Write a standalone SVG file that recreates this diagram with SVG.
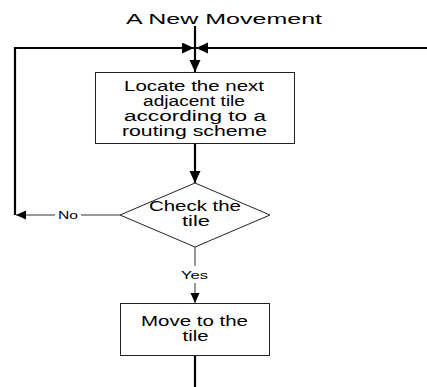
<svg xmlns="http://www.w3.org/2000/svg" width="427" height="387" viewBox="0 0 427 387">
<style>
text{font-family:"Liberation Sans",Arial,sans-serif;fill:#000;text-anchor:middle}
.t{font-size:14px}
.l{font-size:11px}
.box{fill:#fff;stroke:#222;stroke-width:1}
.thick{fill:none;stroke:#000;stroke-width:2.2}
.thin{fill:none;stroke:#333;stroke-width:1}
</style>
<defs>
<marker id="ah" markerUnits="userSpaceOnUse" markerWidth="14" markerHeight="12" refX="12" refY="5.5" orient="auto">
<path d="M0,0 L12,5.5 L0,11 Z" fill="#000"/>
</marker>
<marker id="ahs" markerUnits="userSpaceOnUse" markerWidth="12" markerHeight="10" refX="10" refY="4.5" orient="auto">
<path d="M0,0 L10,4.5 L0,9 Z" fill="#000"/>
</marker>
</defs>
<text class="t" x="224" y="24" textLength="196" lengthAdjust="spacingAndGlyphs">A New Movement</text>
<g id="connectors">
<line class="thick" x1="195" y1="26" x2="195" y2="72" marker-end="url(#ah)"/>
<polyline class="thick" points="15,215 15,48 194,48" marker-end="url(#ah)"/>
<line class="thick" x1="427" y1="48" x2="196" y2="48" marker-end="url(#ah)"/>
<line class="thick" x1="195" y1="144" x2="195" y2="183" marker-end="url(#ah)"/>
<line class="thin" x1="120" y1="215" x2="81" y2="215"/>
<line class="thin" x1="55" y1="215" x2="16" y2="215" marker-end="url(#ahs)"/>
<text class="l" x="68" y="219" textLength="20" lengthAdjust="spacingAndGlyphs">No</text>
<line class="thin" x1="195" y1="247" x2="195" y2="266"/>
<line class="thin" x1="195" y1="283" x2="195" y2="303" marker-end="url(#ahs)"/>
<text class="l" x="194.5" y="279" textLength="27" lengthAdjust="spacingAndGlyphs">Yes</text>
<line class="thick" x1="195" y1="356" x2="195" y2="387"/>
</g>
<g id="locate">
<rect class="box" x="95.5" y="72.5" width="199" height="71"/>
<text class="t" x="194" y="91" textLength="140" lengthAdjust="spacingAndGlyphs">Locate the next</text>
<text class="t" x="194" y="106" textLength="102" lengthAdjust="spacingAndGlyphs">adjacent tile</text>
<text class="t" x="195" y="121" textLength="142" lengthAdjust="spacingAndGlyphs">according to a</text>
<text class="t" x="194.5" y="136" textLength="145" lengthAdjust="spacingAndGlyphs">routing scheme</text>
</g>
<g id="check">
<polygon class="box" points="195,183 270,215 195,247 120,215"/>
<text class="t" x="195" y="211" textLength="92" lengthAdjust="spacingAndGlyphs">Check the</text>
<text class="t" x="196" y="226" textLength="28" lengthAdjust="spacingAndGlyphs">tile</text>
</g>
<g id="move">
<rect class="box" x="120.5" y="303.5" width="149" height="52"/>
<text class="t" x="194.5" y="326" textLength="107" lengthAdjust="spacingAndGlyphs">Move to the</text>
<text class="t" x="195.5" y="341" textLength="26" lengthAdjust="spacingAndGlyphs">tile</text>
</g>
</svg>
